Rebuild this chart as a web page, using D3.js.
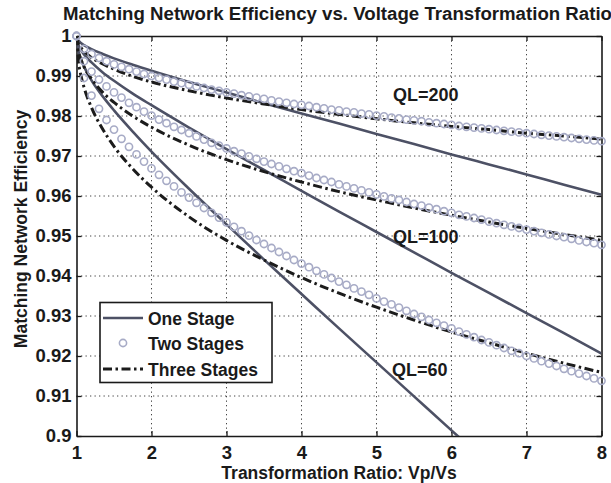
<!DOCTYPE html>
<html>
<head>
<meta charset="utf-8">
<script src="https://cdn.jsdelivr.net/npm/d3@7"></script>
<style>
  html, body { margin: 0; padding: 0; background: #fff; }
  svg { display: block; }
  text { font-family: "Liberation Sans", Arial, Helvetica, sans-serif; font-weight: bold; fill: #1a1a1a; }
</style>
</head>
<body>
<svg id="chart" width="611" height="483"></svg>
<script>
// ---------- data ----------
const titleText = "Matching Network Efficiency vs. Voltage Transformation Ratio";
const xLabelText = "Transformation Ratio: Vp/Vs";
const yLabelText = "Matching Network Efficiency";

const xTicks = [1, 2, 3, 4, 5, 6, 7, 8];
const xTickLabels = ["1", "2", "3", "4", "5", "6", "7", "8"];
const yTicks = [0.9, 0.91, 0.92, 0.93, 0.94, 0.95, 0.96, 0.97, 0.98, 0.99, 1];
const yTickLabels = ["0.9", "0.91", "0.92", "0.93", "0.94", "0.95", "0.96", "0.97", "0.98", "0.99", "1"];

const seriesNames = ["One Stage", "Two Stages", "Three Stages"];
const qlLabels = ["QL=200", "QL=100", "QL=60"];

// x samples for the line series
const lineX = [1, 1.01, 1.02, 1.05, 1.1, 1.2, 1.35, 1.5, 1.75, 2, 2.5, 3, 3.5, 4, 4.5, 5, 5.5, 6, 6.5, 7, 7.5, 8];

// One stage
const oneStage200 = [1, 0.9993, 0.9990, 0.9984, 0.9977, 0.9967, 0.9955, 0.9944, 0.9928, 0.9913, 0.9885, 0.9859, 0.9832, 0.9806, 0.9781, 0.9755, 0.9730, 0.9704, 0.9679, 0.9654, 0.9628, 0.9603];
const oneStage100 = [1, 0.9986, 0.9980, 0.9968, 0.9954, 0.9934, 0.9909, 0.9888, 0.9856, 0.9827, 0.9771, 0.9717, 0.9665, 0.9613, 0.9561, 0.9510, 0.9459, 0.9408, 0.9358, 0.9307, 0.9257, 0.9206];
const oneStage60 = [1, 0.9976, 0.9967, 0.9947, 0.9924, 0.9889, 0.9849, 0.9814, 0.9761, 0.9711, 0.9618, 0.9529, 0.9441, 0.9355, 0.9269, 0.9184, 0.9099, 0.9014, 0.8930, 0.8845, 0.8761, 0.8677];

// Three stages
const threeStage200 = [1, 0.9988, 0.9983, 0.9973, 0.9962, 0.9946, 0.9930, 0.9917, 0.9899, 0.9885, 0.9863, 0.9845, 0.9830, 0.9816, 0.9804, 0.9793, 0.9783, 0.9774, 0.9766, 0.9757, 0.9750, 0.9742];
const threeStage100 = [1, 0.9976, 0.9965, 0.9946, 0.9923, 0.9893, 0.9859, 0.9834, 0.9800, 0.9772, 0.9727, 0.9691, 0.9661, 0.9635, 0.9611, 0.9590, 0.9570, 0.9552, 0.9535, 0.9519, 0.9504, 0.9489];
const threeStage60 = [1, 0.9959, 0.9942, 0.9909, 0.9872, 0.9821, 0.9767, 0.9724, 0.9668, 0.9622, 0.9548, 0.9489, 0.9440, 0.9396, 0.9357, 0.9322, 0.9290, 0.9260, 0.9233, 0.9207, 0.9182, 0.9159];

// Two stages (marker series)
const markerX = [1.0, 1.1, 1.2, 1.3, 1.4, 1.5, 1.6, 1.7, 1.8, 1.9, 2.0, 2.1, 2.2, 2.3, 2.4, 2.5, 2.6, 2.7, 2.8, 2.9, 3.0, 3.1, 3.2, 3.3, 3.4, 3.5, 3.6, 3.7, 3.8, 3.9, 4.0, 4.1, 4.2, 4.3, 4.4, 4.5, 4.6, 4.7, 4.8, 4.9, 5.0, 5.1, 5.2, 5.3, 5.4, 5.5, 5.6, 5.7, 5.8, 5.9, 6.0, 6.1, 6.2, 6.3, 6.4, 6.5, 6.6, 6.7, 6.8, 6.9, 7.0, 7.1, 7.2, 7.3, 7.4, 7.5, 7.6, 7.7, 7.8, 7.9, 8.0];
const twoStage200 = [1.0000, 0.9968, 0.9955, 0.9945, 0.9937, 0.9929, 0.9923, 0.9917, 0.9911, 0.9905, 0.9900, 0.9895, 0.9891, 0.9886, 0.9882, 0.9878, 0.9874, 0.9870, 0.9866, 0.9863, 0.9859, 0.9856, 0.9852, 0.9849, 0.9846, 0.9843, 0.9839, 0.9836, 0.9833, 0.9830, 0.9828, 0.9825, 0.9822, 0.9819, 0.9816, 0.9814, 0.9811, 0.9809, 0.9806, 0.9804, 0.9801, 0.9799, 0.9796, 0.9794, 0.9791, 0.9789, 0.9787, 0.9784, 0.9782, 0.9780, 0.9778, 0.9775, 0.9773, 0.9771, 0.9769, 0.9767, 0.9765, 0.9763, 0.9761, 0.9759, 0.9757, 0.9755, 0.9753, 0.9751, 0.9749, 0.9747, 0.9745, 0.9743, 0.9741, 0.9739, 0.9737];
const twoStage100 = [1.0000, 0.9937, 0.9911, 0.9891, 0.9874, 0.9859, 0.9846, 0.9833, 0.9822, 0.9811, 0.9801, 0.9791, 0.9782, 0.9773, 0.9765, 0.9757, 0.9749, 0.9741, 0.9733, 0.9726, 0.9719, 0.9712, 0.9706, 0.9699, 0.9693, 0.9686, 0.9680, 0.9674, 0.9668, 0.9662, 0.9657, 0.9651, 0.9645, 0.9640, 0.9635, 0.9629, 0.9624, 0.9619, 0.9614, 0.9609, 0.9604, 0.9599, 0.9594, 0.9590, 0.9585, 0.9580, 0.9576, 0.9571, 0.9567, 0.9562, 0.9558, 0.9553, 0.9549, 0.9545, 0.9541, 0.9536, 0.9532, 0.9528, 0.9524, 0.9520, 0.9516, 0.9512, 0.9508, 0.9504, 0.9500, 0.9497, 0.9493, 0.9489, 0.9485, 0.9482, 0.9478];
const twoStage60 = [1.0000, 0.9895, 0.9851, 0.9818, 0.9790, 0.9766, 0.9743, 0.9723, 0.9704, 0.9686, 0.9669, 0.9653, 0.9638, 0.9624, 0.9609, 0.9596, 0.9583, 0.9570, 0.9558, 0.9546, 0.9534, 0.9523, 0.9512, 0.9501, 0.9490, 0.9480, 0.9470, 0.9460, 0.9450, 0.9440, 0.9431, 0.9422, 0.9413, 0.9404, 0.9395, 0.9386, 0.9378, 0.9369, 0.9361, 0.9353, 0.9344, 0.9336, 0.9329, 0.9321, 0.9313, 0.9305, 0.9298, 0.9290, 0.9283, 0.9276, 0.9269, 0.9261, 0.9254, 0.9247, 0.9240, 0.9234, 0.9227, 0.9220, 0.9213, 0.9207, 0.9200, 0.9194, 0.9187, 0.9181, 0.9175, 0.9168, 0.9162, 0.9156, 0.9150, 0.9144, 0.9138];

// ---------- styles ----------
const colOne = "#4d5165";
const colTwo = "#a7abc6";
const colThree = "#1c1c1c";
const dashThree = "9,3.5,2.5,3.5";

// ---------- layout ----------
const svg = d3.select("#chart");
const L = 76.5, R = 601.5, T = 36, B = 436;

const x = d3.scaleLinear().domain([1, 8]).range([L, R]);
const y = d3.scaleLinear().domain([0.9, 1]).range([B, T]);

svg.append("rect").attr("x", 0).attr("y", 0).attr("width", 611).attr("height", 483).attr("fill", "#fff");

// clip
svg.append("defs").append("clipPath").attr("id", "plotclip")
  .append("rect").attr("x", L).attr("y", T).attr("width", R - L).attr("height", B - T);

// grid
const grid = svg.append("g").attr("stroke", "#444").attr("stroke-width", 1).attr("stroke-dasharray", "1.3,3.2");
grid.selectAll("line.gx").data(xTicks.slice(1, -1)).join("line")
  .attr("x1", d => x(d)).attr("x2", d => x(d)).attr("y1", T).attr("y2", B);
grid.selectAll("line.gy").data(yTicks.slice(1, -1)).join("line")
  .attr("x1", L).attr("x2", R).attr("y1", d => y(d)).attr("y2", d => y(d));

// axes (MATLAB-style inward ticks on all four sides)
const fmtX = (d, i) => xTickLabels[i];
const fmtY = (d, i) => yTickLabels[i];
const axB = svg.append("g").attr("transform", `translate(0,${B})`)
  .call(d3.axisBottom(x).tickValues(xTicks).tickFormat(fmtX).tickSizeInner(-5).tickSizeOuter(0).tickPadding(10));
const axT = svg.append("g").attr("transform", `translate(0,${T})`)
  .call(d3.axisTop(x).tickValues(xTicks).tickFormat("").tickSizeInner(-5).tickSizeOuter(0));
const axLft = svg.append("g").attr("transform", `translate(${L},0)`)
  .call(d3.axisLeft(y).tickValues(yTicks).tickFormat(fmtY).tickSizeInner(-5).tickSizeOuter(0).tickPadding(5));
const axRt = svg.append("g").attr("transform", `translate(${R},0)`)
  .call(d3.axisRight(y).tickValues(yTicks).tickFormat("").tickSizeInner(-5).tickSizeOuter(0));
[axB, axT, axLft, axRt].forEach(a => {
  a.select(".domain").attr("stroke", "#1a1a1a").attr("stroke-width", 1.6);
  a.selectAll(".tick line").attr("stroke", "#1a1a1a").attr("stroke-width", 1.3);
  a.selectAll(".tick text").attr("font-size", 18.5).attr("fill", "#1a1a1a")
    .style("font-family", "'Liberation Sans', Arial, sans-serif").style("font-weight", "bold");
});

// series
const plot = svg.append("g").attr("clip-path", "url(#plotclip)");
const lineGen = d3.line().x(d => x(d[0])).y(d => y(d[1])).curve(d3.curveMonotoneX);
const zipL = v => lineX.map((xx, i) => [xx, v[i]]);

[oneStage200, oneStage100, oneStage60].forEach(v => {
  plot.append("path").datum(zipL(v)).attr("d", lineGen)
    .attr("fill", "none").attr("stroke", colOne).attr("stroke-width", 2.6);
});

const markers = svg.append("g");
[twoStage200, twoStage100, twoStage60].forEach(v => {
  markers.append("g").selectAll("circle").data(markerX.map((xx, i) => [xx, v[i]])).join("circle")
    .attr("cx", d => x(d[0])).attr("cy", d => y(d[1])).attr("r", 3.6)
    .attr("fill", "none").attr("stroke", colTwo).attr("stroke-width", 1.6);
});

[threeStage200, threeStage100, threeStage60].forEach(v => {
  plot.append("path").datum(zipL(v)).attr("d", lineGen)
    .attr("fill", "none").attr("stroke", colThree).attr("stroke-width", 3)
    .attr("stroke-dasharray", dashThree);
});

// QL labels
const qlPos = [[393, 101], [393, 243], [392, 376]];
qlLabels.forEach((t, i) => {
  svg.append("text").attr("x", qlPos[i][0]).attr("y", qlPos[i][1]).attr("font-size", 18).text(t);
});

// title & axis labels
svg.append("text").attr("x", 337.5).attr("y", 20).attr("text-anchor", "middle")
  .attr("font-size", 17.5).attr("textLength", 549).attr("lengthAdjust", "spacingAndGlyphs").text(titleText);
svg.append("text").attr("x", 339).attr("y", 479).attr("text-anchor", "middle")
  .attr("font-size", 17.5).text(xLabelText);
svg.append("text").attr("transform", "translate(27,229) rotate(-90)").attr("text-anchor", "middle")
  .attr("font-size", 17.5).text(yLabelText);

// legend
const lg = svg.append("g");
lg.append("rect").attr("x", 100).attr("y", 302.5).attr("width", 172).attr("height", 80)
  .attr("fill", "#fff").attr("stroke", "#1a1a1a").attr("stroke-width", 1.6);
const rows = [318, 343, 369];
lg.append("line").attr("x1", 103).attr("x2", 143).attr("y1", rows[0]).attr("y2", rows[0])
  .attr("stroke", colOne).attr("stroke-width", 2.6);
lg.append("circle").attr("cx", 123).attr("cy", rows[1]).attr("r", 3.6)
  .attr("fill", "none").attr("stroke", colTwo).attr("stroke-width", 1.6);
lg.append("line").attr("x1", 103).attr("x2", 143).attr("y1", rows[2]).attr("y2", rows[2])
  .attr("stroke", colThree).attr("stroke-width", 3).attr("stroke-dasharray", dashThree);
seriesNames.forEach((n, i) => {
  lg.append("text").attr("x", 148).attr("y", rows[i] + 6.5).attr("font-size", 17.5).text(n);
});
</script>
</body>
</html>
